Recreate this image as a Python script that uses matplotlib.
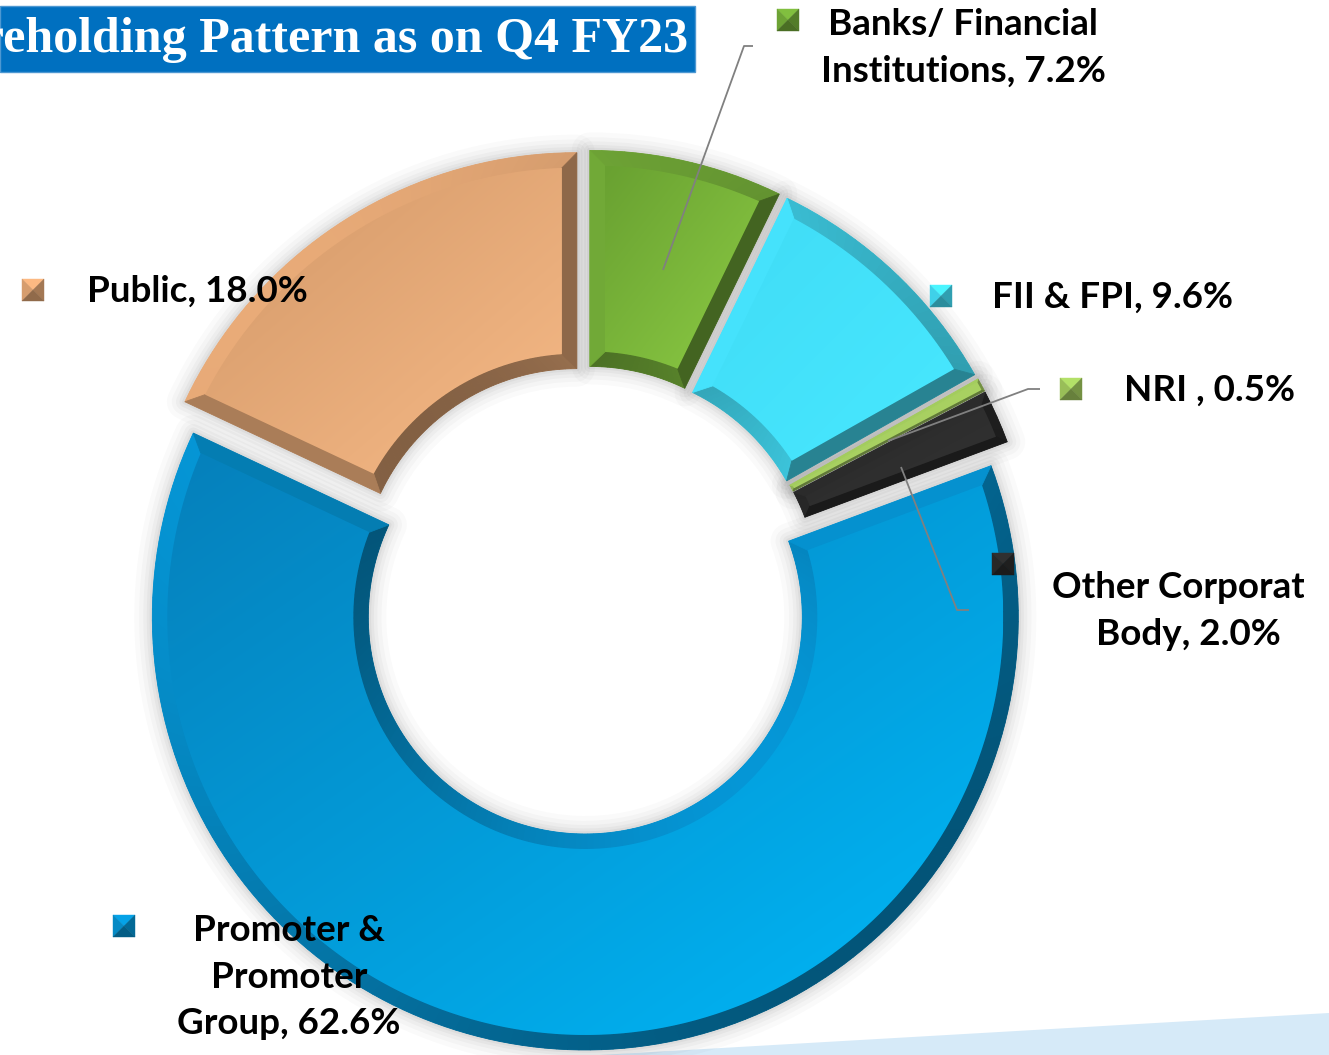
import numpy as np
import matplotlib
matplotlib.use("Agg")
import matplotlib.pyplot as plt
from matplotlib.patches import Polygon, Rectangle, Wedge
from matplotlib.colors import to_rgb
from matplotlib.transforms import Bbox, TransformedBbox

W, H = 1329, 1055

# ---- data -------------------------------------------------------------
categories = ["Banks/ Financial\nInstitutions", "FII & FPI", "NRI ",
              "Other Corporate\nBody", "Promoter &\nPromoter\nGroup", "Public"]
shares = [7.2, 9.6, 0.5, 2.0, 62.6, 18.0]

# face colours (top-left shade, bottom-right shade) and base tone
shade_a = ["#69a131", "#40dcf6", "#a0c95a", "#282828", "#0680bb", "#d29868"]
shade_b = ["#8ccb44", "#48e8ff", "#b0d868", "#343434", "#00b8f8", "#f7ba87"]
base_colors = ["#77b13a", "#45e3fd", "#a6cf60", "#2c2c2c", "#0596d6", "#e9ab78"]

title = "Shareholding Pattern as on Q4 FY23"

# ---- layout (image pixel coordinates, y downward) ----------------------
label_xy = [(963, 48), (1113, 297), (1209, 390), (1188, 611), (289, 977), (197, 291)]
marker_xy = [(788, 20), (941, 296), (1071, 389), (1003, 564), (124, 926), (33, 290)]
leaders = {
    0: [(663, 270), (744, 46), (753, 46)],
    2: [(888, 441), (1028, 389), (1040, 389)],
    3: [(901, 467), (957, 610), (969, 610)],
}


def Y(y):
    return H - y


fig = plt.figure(figsize=(W / 100, H / 100), dpi=100)
ax = fig.add_axes([0, 0, 1, 1])

wedges, _ = ax.pie(shares, radius=433, center=(586, Y(600)), startangle=90,
                   counterclock=False, explode=[17] * len(shares),
                   colors=base_colors, wedgeprops=dict(width=216, linewidth=0))
ax.set_autoscale_on(False)
ax.set_xlim(0, W)
ax.set_ylim(0, H)
ax.set_aspect("equal")
ax.axis("off")

# decorative light band at the bottom right
ax.add_patch(Polygon([(600, 0), (W, 42), (W, 0)], closed=True,
                     facecolor="#d6eaf8", edgecolor="none", zorder=0.5))

light = np.array([-0.78, 0.62])
light /= np.linalg.norm(light)


def shade(col, normal):
    d = float(np.dot(normal, light))
    f = min(1.0, 0.78 + 0.22 * d)
    return tuple(np.clip(np.array(to_rgb(col)) * f, 0, 1))


def pol(cx, cy, r, a):
    a = np.radians(a)
    return np.column_stack([cx + r * np.cos(a), cy + r * np.sin(a)])


for i, w in enumerate(wedges):
    cx, cy = w.center
    R = w.r
    r0 = R - w.width
    t1, t2 = w.theta1, w.theta2
    span = t2 - t1
    b = min(15.0, 0.8 * r0 * np.sin(np.radians(0.4 * span)))
    Ro, Ri = R - b, r0 + b
    do = np.degrees(np.arcsin(b / Ro))
    di = np.degrees(np.arcsin(b / Ri))
    col = base_colors[i]
    w.set_zorder(2)

    # soft drop halo around the slice
    for lw, al in [(26, 0.018), (19, 0.022), (13, 0.026), (8, 0.03), (4, 0.035)]:
        ax.add_patch(Wedge((cx, cy), R, t1, t2, width=w.width, facecolor="none",
                           edgecolor=(0, 0, 0, al), linewidth=lw, zorder=1,
                           joinstyle="round"))

    n = max(4, int(span / 1.5))
    ang_o = np.linspace(t1, t2, n + 1)
    ang_oi = np.linspace(t1 + do, t2 - do, n + 1)
    ang_ii = np.linspace(t1 + di, t2 - di, n + 1)
    P_out = pol(cx, cy, R, ang_o)
    P_outi = pol(cx, cy, Ro, ang_oi)
    P_in = pol(cx, cy, r0, ang_o)
    P_ini = pol(cx, cy, Ri, ang_ii)

    # bevels along the outer and inner arcs
    for k in range(n):
        m = np.radians(0.5 * (ang_o[k] + ang_o[k + 1]))
        nrm = np.array([np.cos(m), np.sin(m)])
        c = shade(col, nrm)
        ax.add_patch(Polygon([P_out[k], P_out[k + 1], P_outi[k + 1], P_outi[k]],
                             closed=True, facecolor=c, edgecolor=c, lw=0.6, zorder=3))
        c = shade(col, -nrm)
        ax.add_patch(Polygon([P_in[k], P_in[k + 1], P_ini[k + 1], P_ini[k]],
                             closed=True, facecolor=c, edgecolor=c, lw=0.6, zorder=3))

    # bevels along the two straight edges
    a1, a2 = np.radians(t1), np.radians(t2)
    c = shade(col, np.array([np.sin(a1), -np.cos(a1)]))
    ax.add_patch(Polygon([P_in[0], P_out[0], P_outi[0], P_ini[0]], closed=True,
                         facecolor=c, edgecolor=c, lw=0.6, zorder=3))
    c = shade(col, np.array([-np.sin(a2), np.cos(a2)]))
    ax.add_patch(Polygon([P_in[-1], P_out[-1], P_outi[-1], P_ini[-1]], closed=True,
                         facecolor=c, edgecolor=c, lw=0.6, zorder=3))

    # gradient face inside the bevel
    face_pts = np.vstack([P_outi, P_ini[::-1]])
    face = Polygon(face_pts, closed=True, facecolor="none", edgecolor="none", zorder=4)
    ax.add_patch(face)
    x0, y0 = face_pts.min(axis=0)
    x1, y1 = face_pts.max(axis=0)
    gx, gy = np.meshgrid(np.linspace(0, 1, 80), np.linspace(0, 1, 80))
    t = 0.5 * gx + 0.5 * (1 - gy)
    ca, cb = np.array(to_rgb(shade_a[i])), np.array(to_rgb(shade_b[i]))
    img = ca[None, None, :] * (1 - t[..., None]) + cb[None, None, :] * t[..., None]
    im = ax.imshow(img, extent=(x0, x1, y0, y1), origin="lower",
                   interpolation="bilinear", zorder=4, aspect="auto")
    im.set_clip_path(face)

ax.set_xlim(0, W)
ax.set_ylim(0, H)

# leader lines
for i, pts in leaders.items():
    xs = [p[0] for p in pts]
    ys = [Y(p[1]) for p in pts]
    ax.plot(xs, ys, color="#808080", lw=1.3, zorder=5, solid_capstyle="butt")

# labels
clip_box = TransformedBbox(Bbox([[0, 0], [1304, H]]), ax.transData)
for i, (cat, val) in enumerate(zip(categories, shares)):
    lx, ly = label_xy[i]
    txt = ax.text(lx, Y(ly), f"{cat}, {val:.1f}%", ha="center", va="center",
                  multialignment="center", fontsize=26.5, fontweight="bold",
                  family="Lato", color="black", linespacing=1.5, zorder=7)
    txt.set_clip_box(clip_box)
    txt.set_clip_on(True)

    # pyramid-style legend key
    mx, my = marker_xy[i]
    my = Y(my)
    s = 11
    col = np.array(to_rgb(base_colors[i]))
    tris = [
        ([(mx - s, my + s), (mx + s, my + s), (mx, my)], 1.08),
        ([(mx - s, my - s), (mx - s, my + s), (mx, my)], 0.92),
        ([(mx + s, my + s), (mx + s, my - s), (mx, my)], 0.7),
        ([(mx - s, my - s), (mx + s, my - s), (mx, my)], 0.62),
    ]
    for pts, f in tris:
        c = tuple(np.clip(col * f, 0, 1))
        ax.add_patch(Polygon(pts, closed=True, facecolor=c, edgecolor=c, lw=0.3, zorder=7))

# title banner
ax.add_patch(Rectangle((0, Y(72)), 695, 66, facecolor="#0070c0",
                       edgecolor="#4d98d2", lw=1.0, zorder=8))
ax.text(688, Y(40), title, ha="right", va="center", fontsize=36,
        fontweight="bold", family="Liberation Serif", color="white", zorder=9)

fig.savefig("out.png", dpi=100, facecolor="white")
